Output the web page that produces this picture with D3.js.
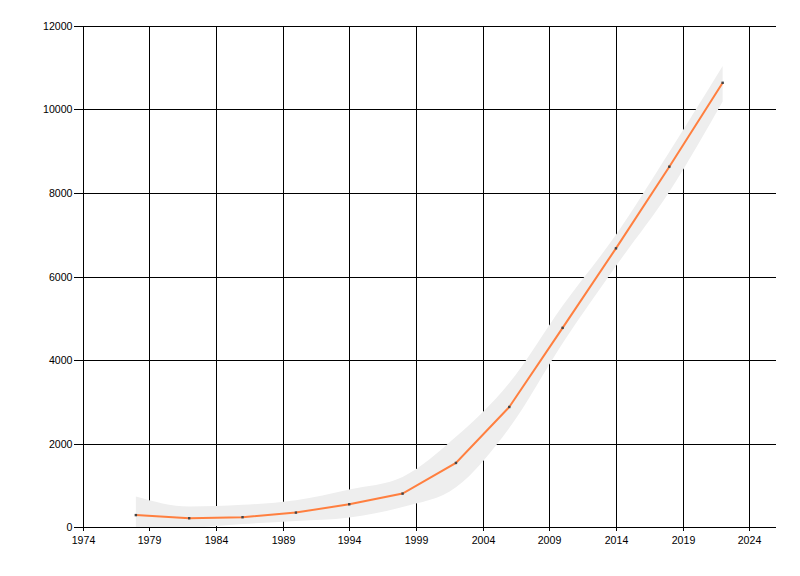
<!DOCTYPE html>
<html>
<head>
<meta charset="utf-8">
<script src="https://cdn.jsdelivr.net/npm/d3@7"></script>
<style>
  html, body { margin: 0; padding: 0; background: #fff; }
  svg { display: block; }
  .tick text { font-family: "Liberation Sans", Arial, sans-serif; font-size: 10.6px; fill: #000; }
</style>
</head>
<body>
<svg id="chart" width="800" height="576"></svg>
<script>
// ---- data ----
const years  = [1978, 1982, 1986, 1990, 1994, 1998, 2002, 2006, 2010, 2014, 2018, 2022];
const values = [285, 210, 235, 345, 545, 800, 1535, 2875, 4770, 6675, 8630, 10640];
const bandUpper = [730, 490, 530, 640, 900, 1200, 2160, 3450, 5300, 7000, 8980, 11040];
const bandLower = [-150, -30, 70, 145, 230, 480, 950, 2370, 4400, 6250, 8030, 10190];
const xTicks = [1974, 1979, 1984, 1989, 1994, 1999, 2004, 2009, 2014, 2019, 2024];
const yTicks = [0, 2000, 4000, 6000, 8000, 10000, 12000];

(function () {
const rows = years.map((yr, i) => ({ year: yr, value: values[i], hi: bandUpper[i], lo: bandLower[i] }));

const svg = d3.select("#chart");
const pL = 82.5, pR = 776, pT = 26, pB = 527;

const x = d3.scaleLinear().domain([1974, 2026]).range([pL, pR]);
const y = d3.scaleLinear().domain([0, 12000]).range([pB, pT]);

// clip
svg.append("defs").append("clipPath").attr("id", "plot")
  .append("rect").attr("x", pL).attr("y", pT).attr("width", pR - pL).attr("height", pB - pT);

// grid
const grid = svg.append("g").attr("shape-rendering", "crispEdges");
grid.selectAll("line.v").data(xTicks).join("line").attr("class", "v")
  .attr("x1", d => Math.round(x(d)) + 0.5).attr("x2", d => Math.round(x(d)) + 0.5)
  .attr("y1", pT).attr("y2", pB)
  .attr("stroke", "#000").attr("stroke-width", 1);
grid.selectAll("line.h").data(yTicks).join("line").attr("class", "h")
  .attr("y1", d => Math.round(y(d)) + 0.5).attr("y2", d => Math.round(y(d)) + 0.5)
  .attr("x1", pL).attr("x2", pR)
  .attr("stroke", "#000").attr("stroke-width", 1);

// band
const area = d3.area()
  .x(d => x(d.year))
  .y0(d => y(d.lo))
  .y1(d => y(d.hi))
  .curve(d3.curveMonotoneX);
svg.append("path").datum(rows)
  .attr("clip-path", "url(#plot)")
  .attr("d", area)
  .attr("fill", "#eeeeee");

// line
const line = d3.line().x(d => x(d.year)).y(d => y(d.value));
svg.append("path").datum(rows)
  .attr("d", line)
  .attr("fill", "none")
  .attr("stroke", "#ff7f3f")
  .attr("stroke-width", 2);

// points
svg.selectAll("rect.pt").data(rows).join("rect")
  .attr("class", "pt")
  .attr("x", d => x(d.year) - 1.2).attr("y", d => y(d.value) - 1.2)
  .attr("width", 2.4).attr("height", 2.4)
  .attr("fill", "#444");

// axes
const xAxis = d3.axisBottom(x).tickValues(xTicks).tickFormat(d3.format("d")).tickSize(3).tickPadding(6);
const gx = svg.append("g").attr("transform", `translate(0,${Math.round(pB) + 0.5})`).call(xAxis);
gx.select(".domain").attr("d", `M${pL},0H${pR}`).attr("stroke", "#000").attr("shape-rendering", "crispEdges");
gx.selectAll(".tick line").attr("stroke", "#000").attr("shape-rendering", "crispEdges");
gx.selectAll(".tick").attr("transform", d => `translate(${Math.round(x(d)) + 0.5},0)`);

const yAxis = d3.axisLeft(y).tickValues(yTicks).tickFormat(d3.format("d")).tickSize(10).tickPadding(1);
const gy = svg.append("g").attr("transform", `translate(${Math.round(pL) + 0.5},0)`).call(yAxis);
gy.select(".domain").attr("d", `M0,${pT}V${pB}`).attr("stroke", "#000").attr("shape-rendering", "crispEdges");
gy.selectAll(".tick line").attr("stroke", "#000").attr("shape-rendering", "crispEdges");
gy.selectAll(".tick").attr("transform", d => `translate(0,${Math.round(y(d)) + 0.5})`);
})();
</script>
</body>
</html>
